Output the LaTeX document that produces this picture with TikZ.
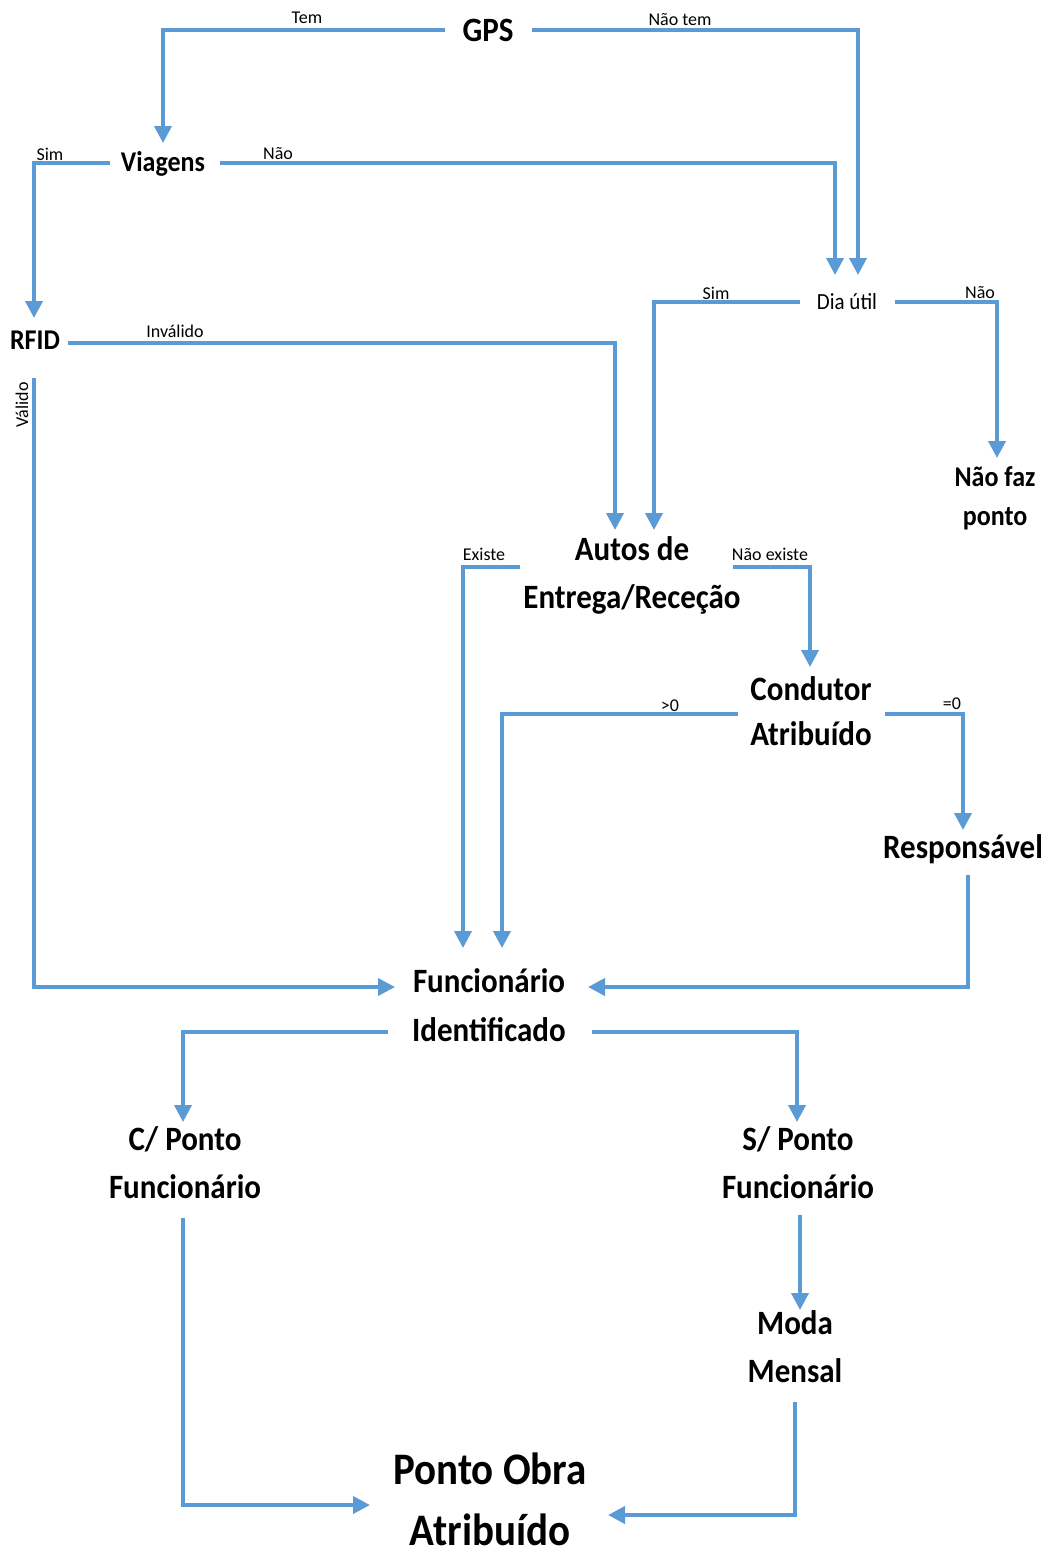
\documentclass[tikz,border=0pt]{standalone}
\usepackage{fontspec}
\setmainfont{Carlito}
\usetikzlibrary{arrows.meta}
\definecolor{flow}{HTML}{5B9BD5}
% stacked, slightly tall lines of node text
\newcommand\stk[1]{\scalebox{1}[1.1]{\begin{tabular}{@{}c@{}}#1\end{tabular}}}
\begin{document}
\begin{tikzpicture}[x=1pt,y=1pt,
  box/.style={inner sep=0pt,yshift=-2pt,font=\bfseries\fontsize{31}{42}\selectfont},
  boxs/.style={inner sep=0pt,yshift=-2pt,font=\bfseries\fontsize{26}{35}\selectfont},
  tbox/.style={inner sep=0pt,yshift=-2pt},
  lbl/.style={inner sep=0pt,font=\fontsize{18}{20}\selectfont},
  link/.style={draw=flow,line width=3.8pt,
    -{Triangle[length=17pt,width=17pt]}}]
\useasboundingbox (0,0) rectangle (1053,-1558);

% decision and result nodes
\node[box]  (gps)    at (488,-30)   {\stk{GPS}};
\node[boxs] (via)    at (163,-162)  {\stk{Viagens}};
\node[tbox,font=\fontsize{21}{24}\selectfont] (dia) at (847,-302) {\stk{Dia útil}};
\node[boxs] (rfid)   at (35,-340)   {\stk{RFID}};
\node[tbox,font=\bfseries\fontsize{26}{36}\selectfont] (naofaz) at (995,-496) {\stk{Não faz\\ponto}};
\node[tbox,font=\bfseries\fontsize{31}{44}\selectfont] (autos) at (632,-573) {\stk{Autos de\\Entrega/Receção}};
\node[tbox,font=\bfseries\fontsize{31}{41}\selectfont] (cond) at (811,-712) {\stk{Condutor\\Atribuído}};
\node[box]  (resp)   at (963,-847)  {\stk{Responsável}};
\node[tbox,font=\bfseries\fontsize{31}{44.5}\selectfont] (func) at (489,-1005) {\stk{Funcionário\\Identificado}};
\node[tbox,font=\bfseries\fontsize{31}{44}\selectfont] (cp) at (185,-1163) {\stk{C/ Ponto\\Funcionário}};
\node[tbox,font=\bfseries\fontsize{31}{44}\selectfont] (sp) at (798,-1163) {\stk{S/ Ponto\\Funcionário}};
\node[tbox,font=\bfseries\fontsize{31}{44}\selectfont] (moda) at (795,-1347) {\stk{Moda\\Mensal}};
\node[inner sep=0pt,font=\bfseries\fontsize{41}{55}\selectfont] (obra) at (490,-1503) {\stk{Ponto Obra\\Atribuído}};

% branch labels
\node[lbl] (ltem)    at (307,-18)  {Tem};
\node[lbl] (lnaotem) at (680,-20)  {Não tem};
\node[lbl] (lsim1)   at (50,-154)  {Sim};
\node[lbl] (lnao1)   at (278,-154) {Não};
\node[lbl] (lsim2)   at (716,-293) {Sim};
\node[lbl] (lnao2)   at (980,-293) {Não};
\node[lbl] (linv)    at (175,-331) {Inválido};
\node[lbl,rotate=90] (lval) at (22,-405) {Válido};
\node[lbl] (lexi)    at (484,-554) {Existe};
\node[lbl] (lnexi)   at (770,-554) {Não existe};
\node[lbl] (lgt)     at (670,-706) {>0};
\node[lbl] (leq)     at (952,-704) {=0};

% connectors (end points are offset from the node centres)
\draw[link] ([shift={(-43,2)}]gps.center) -| ([yshift=21]via.center);
\draw[link] ([shift={(44,2)}]gps.center) -| ([shift={(11,29)}]dia.center);
\draw[link] ([shift={(-53,1)}]via.center) -| ([shift={(-1,24)}]rfid.center);
\draw[link] ([shift={(57,1)}]via.center) -| ([shift={(-12,29)}]dia.center);
\draw[link] ([shift={(-47,2)}]dia.center) -| ([shift={(22,45)}]autos.center);
\draw[link] ([shift={(48,2)}]dia.center) -| ([shift={(2,40)}]naofaz.center);
\draw[link] ([shift={(33,-1)}]rfid.center) -| ([shift={(-17,45)}]autos.center);
\draw[link] ([shift={(-1,-36)}]rfid.center) |- ([shift={(-94,20)}]func.center);
\draw[link] ([shift={(-112,8)}]autos.center) -| ([shift={(-26,59)}]func.center);
\draw[link] ([shift={(101,8)}]autos.center) -| ([shift={(-1,47)}]cond.center);
\draw[link] ([shift={(-73,0)}]cond.center) -| ([shift={(13,59)}]func.center);
\draw[link] ([shift={(74,0)}]cond.center) -| ([yshift=19]resp.center);
\draw[link] ([shift={(5,-26)}]resp.center) |- ([shift={(99,20)}]func.center);
\draw[link] ([shift={(-101,-25)}]func.center) -| ([shift={(-2,43)}]cp.center);
\draw[link] ([shift={(103,-25)}]func.center) -| ([shift={(-1,43)}]sp.center);
\draw[link] ([shift={(2,-50)}]sp.center) -- ([shift={(5,39)}]moda.center);
\draw[link] ([shift={(-2,-53)}]cp.center) |- ([shift={(-120,-2)}]obra.center);
\draw[link] ([yshift=-53]moda.center) |- ([shift={(118,-12)}]obra.center);
\end{tikzpicture}
\end{document}
